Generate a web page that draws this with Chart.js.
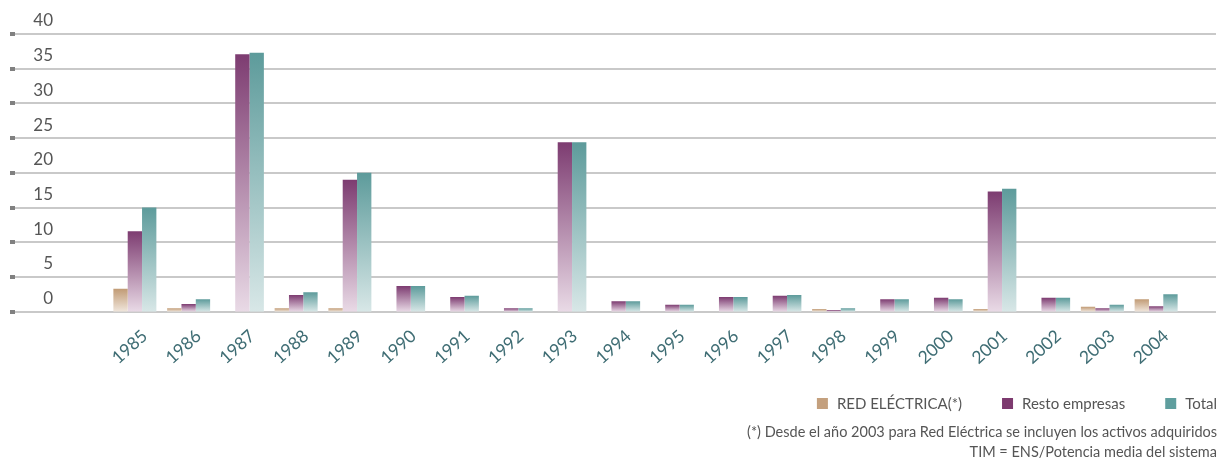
<!DOCTYPE html>
<html>
<head>
<meta charset="utf-8">
<script src="https://cdn.jsdelivr.net/npm/chart.js@4"></script>
<style>
  html, body { margin: 0; padding: 0; background: #fff; }
  #wrap { width: 1221px; height: 461px; }
</style>
</head>
<body>
<div id="wrap"><canvas id="myChart" width="1221" height="461"></canvas></div>
<script>
const years = ['1985', '1986', '1987', '1988', '1989', '1990', '1991', '1992', '1993', '1994',
               '1995', '1996', '1997', '1998', '1999', '2000', '2001', '2002', '2003', '2004'];
const redElectrica = [3.3, 0.5, 0, 0.5, 0.5, 0, 0, 0, 0, 0, 0, 0, 0, 0.4, 0, 0, 0.4, 0, 0.7, 1.8];
const restoEmpresas = [11.6, 1.1, 37.1, 2.4, 19.0, 3.7, 2.1, 0.5, 24.4, 1.5, 1.0, 2.1, 2.3, 0.25, 1.8, 2.0, 17.3, 2.0, 0.5, 0.8];
const total = [15.0, 1.8, 37.3, 2.8, 20.0, 3.7, 2.3, 0.5, 24.4, 1.5, 1.0, 2.1, 2.4, 0.5, 1.8, 1.8, 17.7, 2.0, 1.0, 2.5];
const footnotes = [
    '(*) Desde el año 2003 para Red Eléctrica se incluyen los activos adquiridos',
    'TIM = ENS/Potencia media del sistema'
];

const FONT = 'Lato, "Open Sans", sans-serif';

// each bar fades from its own top to the baseline
function barGradient(top, bottom) {
    return function (context) {
        const chart = context.chart;
        if (!chart.chartArea || context.type !== 'data') return top;
        const y = chart.scales.y;
        const y1 = y.getPixelForValue(context.parsed.y);
        const y0 = y.getPixelForValue(0);
        if (y0 - y1 < 1) return top;
        const g = chart.ctx.createLinearGradient(0, y1, 0, y0);
        g.addColorStop(0, top);
        g.addColorStop(1, bottom);
        return g;
    };
}

const gridPlugin = {
    id: 'wideGrid',
    beforeDatasetsDraw(chart) {
        const ctx = chart.ctx;
        const y = chart.scales.y;
        ctx.save();
        y.ticks.forEach(t => {
            const py = Math.round(y.getPixelForValue(t.value));
            ctx.strokeStyle = '#b7b7b7';
            ctx.lineWidth = 1.6;
            ctx.beginPath();
            ctx.moveTo(15, py);
            ctx.lineTo(chart.width - 5, py);
            ctx.stroke();
            ctx.fillStyle = '#808080';
            ctx.fillRect(10, py - 2, 5, 4);
        });
        ctx.restore();
    }
};

const legendPlugin = {
    id: 'bottomLegend',
    afterDraw(chart) {
        const ctx = chart.ctx;
        const right = chart.width - 4;
        ctx.save();
        ctx.font = '15px ' + FONT;
        ctx.textBaseline = 'middle';
        let x = right;
        const items = chart.data.datasets.slice().reverse();
        items.forEach(ds => {
            const w = ctx.measureText(ds.label).width;
            ctx.textAlign = 'left';
            ctx.fillStyle = '#555';
            ctx.fillText(ds.label, x - w, 404);
            ctx.fillStyle = ds.legendColor;
            ctx.fillRect(x - w - 20, 398, 11, 11);
            x = x - w - 20 - 40;
        });
        ctx.font = '14.5px ' + FONT;
        ctx.textAlign = 'right';
        ctx.fillStyle = '#555';
        footnotes.forEach((line, i) => {
            ctx.fillText(line, right, 432 + i * 20);
        });
        ctx.restore();
    }
};

const ctx = document.getElementById('myChart').getContext('2d');
const myChart = new Chart(ctx, {
    type: 'bar',
    data: {
        labels: years,
        datasets: [
            {
                label: 'RED ELÉCTRICA(*)',
                data: redElectrica,
                backgroundColor: barGradient('#c19b75', '#f0e6dc'),
                legendColor: '#c4a07e'
            },
            {
                label: 'Resto empresas',
                data: restoEmpresas,
                backgroundColor: barGradient('#7d3c71', '#e9dae6'),
                legendColor: '#7d3a6f'
            },
            {
                label: 'Total',
                data: total,
                backgroundColor: barGradient('#5d9b9b', '#d8e7e7'),
                legendColor: '#5f9e9e'
            }
        ]
    },
    options: {
        responsive: false,
        animation: false,
        layout: {
            padding: { left: 0, right: 38, top: 34, bottom: 0 }
        },
        datasets: {
            bar: {
                categoryPercentage: 0.8,
                barPercentage: 1.0
            }
        },
        plugins: {
            legend: { display: false },
            tooltip: { enabled: false }
        },
        scales: {
            x: {
                grid: { display: false },
                border: { display: false },
                ticks: {
                    color: '#3f6d74',
                    font: { family: FONT, size: 17.5 },
                    minRotation: 42,
                    maxRotation: 42,
                    autoSkip: false,
                    labelOffset: 10,
                    padding: 6
                },
                afterFit: function (scale) {
                    scale.height = 149.3;
                    scale.paddingTop = 0;
                    scale.paddingBottom = 0;
                }
            },
            y: {
                min: 0,
                max: 40,
                grid: { display: false, drawTicks: false },
                border: { display: false },
                ticks: {
                    stepSize: 5,
                    color: '#555',
                    font: { family: FONT, size: 17 },
                    crossAlign: 'near',
                    padding: 55,
                    labelOffset: -13
                },
                afterFit: function (scale) {
                    scale.width = 108;
                    scale.paddingTop = 0;
                    scale.paddingBottom = 0;
                }
            }
        }
    },
    plugins: [gridPlugin, legendPlugin]
});
</script>
</body>
</html>
